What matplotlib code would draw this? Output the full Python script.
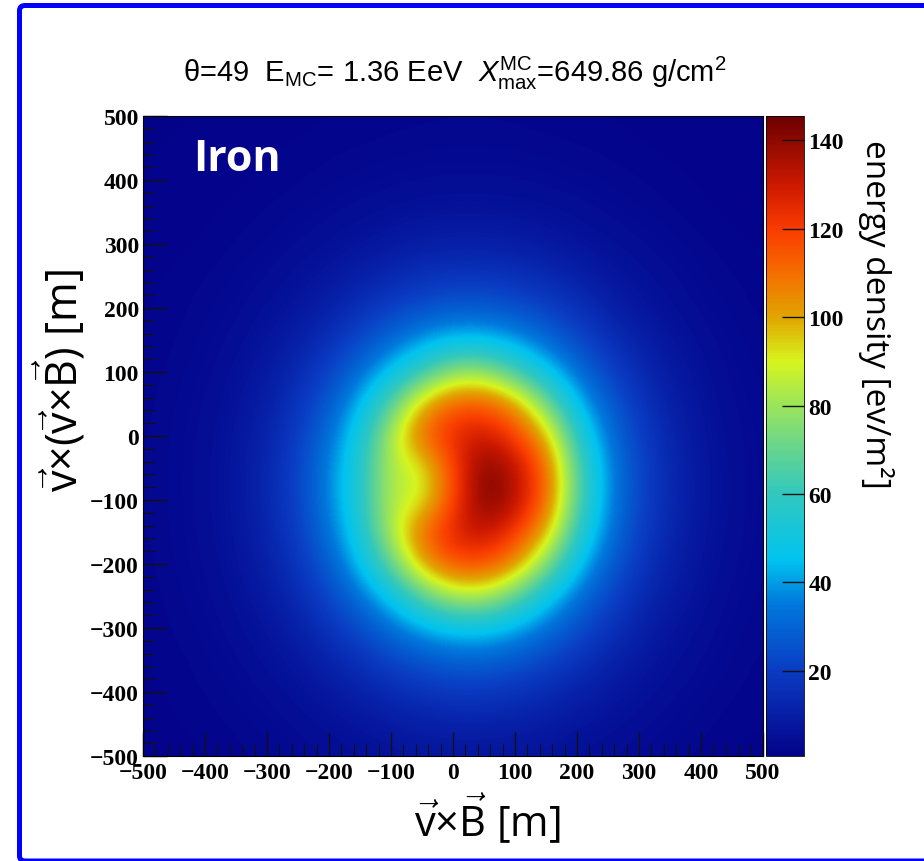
import matplotlib
matplotlib.use("Agg")
import matplotlib.pyplot as plt
import numpy as np
from matplotlib.colors import LinearSegmentedColormap
from matplotlib.patches import FancyBboxPatch
from matplotlib.ticker import MultipleLocator

plt.rcParams['mathtext.fontset'] = 'custom'
plt.rcParams['mathtext.rm'] = 'Liberation Sans'
plt.rcParams['mathtext.it'] = 'Liberation Sans:italic'
plt.rcParams['mathtext.sf'] = 'Open Sans'

# sample positions of the footprint map [m]
x_pos = [-500, -450, -400, -350, -300, -250, -200, -150, -100, -50, 0,
         50, 100, 150, 200, 250, 300, 350, 400, 450, 500]
y_pos = [500, 450, 400, 350, 300, 250, 200, 150, 100, 50, 0,
         -50, -100, -150, -200, -250, -300, -350, -400, -450, -500]

# energy density [eV/m^2], one row per y_pos, one column per x_pos
energy = [
    [1.2, 1.2, 1.3, 1.4, 1.5, 1.6, 1.8, 1.9, 2.1, 2.2, 2.3, 2.3, 2.2, 2.1, 2.0, 1.8, 1.6, 1.5, 1.4, 1.3, 1.2],
    [1.2, 1.3, 1.4, 1.5, 1.7, 1.9, 2.2, 2.4, 2.6, 2.8, 2.9, 2.9, 2.8, 2.6, 2.4, 2.2, 1.9, 1.7, 1.5, 1.4, 1.3],
    [1.3, 1.4, 1.5, 1.7, 2.0, 2.3, 2.7, 3.1, 3.6, 4.0, 4.3, 4.3, 4.1, 3.7, 3.2, 2.8, 2.4, 2.0, 1.7, 1.5, 1.4],
    [1.4, 1.5, 1.7, 2.0, 2.4, 2.9, 3.7, 4.7, 5.5, 6.2, 6.5, 6.5, 6.2, 5.6, 4.8, 3.8, 3.0, 2.5, 2.0, 1.7, 1.5],
    [1.5, 1.6, 1.9, 2.4, 3.0, 4.1, 5.4, 6.7, 8.2, 9.8, 10.5, 10.5, 9.8, 8.4, 6.8, 5.5, 4.3, 3.2, 2.5, 2.0, 1.7],
    [1.5, 2.0, 2.3, 3.0, 4.1, 5.7, 7.5, 10.5, 13.6, 16.0, 17.5, 17.5, 16.2, 13.8, 10.8, 7.7, 5.8, 4.3, 3.0, 2.4, 2.0],
    [1.7, 2.1, 2.7, 3.6, 5.3, 7.3, 11.0, 16.2, 20.5, 25.0, 27.5, 27.5, 25.3, 21.0, 16.5, 11.2, 7.4, 5.4, 3.7, 2.8, 2.1],
    [1.8, 2.3, 3.1, 4.6, 6.8, 10.5, 16.0, 23.0, 31.5, 39.5, 45.0, 45.0, 40.0, 32.0, 23.5, 16.5, 10.8, 7.0, 4.8, 3.3, 2.4],
    [2.0, 2.6, 3.6, 5.5, 8.5, 14.0, 21.5, 32.5, 46.0, 61.0, 78.0, 79.0, 64.0, 48.0, 33.5, 22.0, 14.5, 8.8, 5.7, 3.7, 2.6],
    [2.1, 2.8, 4.1, 6.3, 10.3, 17.5, 27.5, 43.5, 67.0, 98.5, 114.0, 115.0, 103.0, 74.0, 45.0, 29.0, 18.0, 10.8, 6.5, 4.2, 2.9],
    [2.2, 3.0, 4.5, 6.9, 12.0, 20.0, 33.0, 51.0, 84.0, 112.0, 126.0, 131.0, 121.0, 99.0, 58.0, 34.0, 21.0, 12.6, 7.0, 4.7, 3.0],
    [2.3, 3.0, 4.7, 7.2, 13.0, 21.5, 36.5, 54.5, 85.0, 88.0, 118.0, 143.0, 134.0, 113.0, 67.0, 38.0, 22.5, 13.5, 7.6, 4.8, 3.1],
    [2.3, 3.0, 4.7, 7.2, 13.0, 21.5, 36.5, 55.0, 85.0, 88.0, 118.0, 144.0, 135.0, 113.0, 68.0, 38.0, 22.5, 13.5, 7.6, 4.9, 3.1],
    [2.2, 3.0, 4.5, 6.9, 12.0, 20.3, 33.5, 51.5, 84.0, 111.0, 128.0, 133.0, 122.0, 100.0, 59.0, 35.0, 21.0, 12.8, 7.1, 4.7, 3.0],
    [2.1, 2.8, 4.2, 6.4, 10.4, 17.8, 28.0, 45.0, 69.0, 101.0, 116.0, 117.0, 105.0, 76.0, 47.0, 29.5, 18.3, 11.0, 6.5, 4.3, 2.9],
    [2.0, 2.6, 3.6, 5.6, 8.7, 14.3, 22.5, 33.5, 48.0, 67.0, 83.0, 84.0, 69.0, 49.5, 34.0, 23.0, 14.8, 9.2, 5.8, 3.8, 2.6],
    [1.9, 2.4, 3.2, 4.7, 6.8, 10.8, 17.0, 24.0, 32.8, 41.5, 47.0, 47.5, 42.0, 33.5, 24.8, 17.5, 11.2, 7.0, 4.8, 3.3, 2.4],
    [1.8, 2.1, 2.7, 3.8, 5.5, 7.8, 11.8, 16.5, 21.8, 26.0, 29.3, 29.5, 26.5, 22.3, 17.0, 12.2, 8.2, 5.7, 4.0, 2.8, 2.2],
    [1.6, 1.9, 2.4, 3.1, 4.2, 5.8, 8.0, 11.0, 14.1, 16.8, 18.4, 18.5, 17.0, 14.4, 11.2, 8.2, 6.0, 4.4, 3.2, 2.5, 2.0],
    [1.5, 1.8, 2.0, 2.5, 3.2, 4.3, 5.6, 7.0, 9.0, 10.3, 11.3, 11.3, 10.4, 9.1, 7.0, 5.8, 4.4, 3.3, 2.6, 2.0, 1.8],
    [1.4, 1.5, 1.8, 2.1, 2.6, 3.2, 4.0, 4.9, 5.8, 6.5, 6.8, 6.8, 6.5, 5.9, 4.9, 4.1, 3.2, 2.6, 2.2, 1.8, 1.6],
]

z_min, z_max = 0.7, 145.5
cbar_ticks = [20, 40, 60, 80, 100, 120, 140]
axis_ticks = [-500, -400, -300, -200, -100, 0, 100, 200, 300, 400, 500]

# palette sampled from the colour bar
palette = [(0.000, '#03038a'), (0.133, '#0a3cc3'), (0.237, '#0078dc'),
           (0.306, '#00c3f0'), (0.410, '#32c8be'), (0.490, '#6ed787'),
           (0.561, '#a5e850'), (0.617, '#d7f51e'), (0.686, '#e1a500'),
           (0.755, '#f56e00'), (0.824, '#fa3c00'), (0.893, '#cd1900'),
           (1.000, '#6e0000')]
cmap = LinearSegmentedColormap.from_list('root_rainbow', palette)

W, H = 924, 862
fig = plt.figure(figsize=(W / 100, H / 100), dpi=100)

ax = fig.add_axes([143 / W, 1 - 757 / H, 620 / W, 640 / H])
cax = fig.add_axes([766 / W, 1 - 757 / H, 38 / W, 640 / H])

dx = (x_pos[1] - x_pos[0]) / 2
dy = (y_pos[0] - y_pos[1]) / 2
im = ax.imshow(np.array(energy), cmap=cmap, vmin=z_min, vmax=z_max,
               origin='upper', aspect='auto', interpolation='bicubic',
               extent=[x_pos[0] - dx, x_pos[-1] + dx, y_pos[-1] - dy, y_pos[0] + dy])
ax.set_xlim(-500, 500)
ax.set_ylim(-500, 500)

tick_font = dict(family='Liberation Serif', weight='bold', size=17)
ax.set_xticks(axis_ticks)
ax.set_yticks(axis_ticks)
ax.xaxis.set_minor_locator(MultipleLocator(20))
ax.yaxis.set_minor_locator(MultipleLocator(20))
ax.tick_params(which='major', direction='in', length=17, width=1, color='#111111')
ax.tick_params(which='minor', direction='in', length=8.5, width=0.8, color='#111111')
ax.tick_params(axis='x', which='major', pad=4)
ax.tick_params(axis='y', which='major', pad=3)
for lab in ax.get_xticklabels() + ax.get_yticklabels():
    lab.set_fontproperties(tick_font)
for s in ax.spines.values():
    s.set_linewidth(0.8)

cb = fig.colorbar(im, cax=cax, ticks=cbar_ticks)
cb.outline.set_linewidth(0.6)
cax.tick_params(direction='in', length=16, width=1, color='#111111', pad=3)
for lab in cax.get_yticklabels():
    lab.set_fontproperties(tick_font)

ax.text(0.081, 0.916, 'Iron', transform=ax.transAxes, color='white',
        fontsize=31, fontweight='bold', family='Open Sans', va='baseline')

fig.text(455 / W, 1 - 82 / H,
         r'θ=49  E$_{\mathrm{MC}}$= 1.36 EeV  $X_{\mathrm{max}}^{\mathrm{MC}}$=649.86 g/cm$^{2}$',
         ha='center', va='baseline', fontsize=21, family='Liberation Sans')
fig.text(487 / W, 1 - 837 / H, r'$\vec{\mathsf{v}}$×$\vec{\mathsf{B}}$ [m]',
         ha='center', va='baseline', fontsize=30, family='Open Sans')
fig.text(61 / W, 1 - 381 / H, r'$\vec{\mathsf{v}}$×($\vec{\mathsf{v}}$×$\vec{\mathsf{B}}$) [m]',
         ha='center', va='center', rotation=90, fontsize=31, family='Open Sans')
fig.text(876 / W, 1 - 314 / H, 'energy density [ev/m²]', ha='center', va='center',
         rotation=270, fontsize=24, family='Open Sans')

# blue slide frame
frame = FancyBboxPatch((19.5 / W, 0.0), 1.0, 1 - 6.5 / H,
                       boxstyle='round,pad=0,rounding_size=0.006',
                       transform=fig.transFigure, fill=False,
                       edgecolor='#0000ff', linewidth=3.6)
fig.patches.append(frame)

fig.savefig('out.png', dpi=100)
